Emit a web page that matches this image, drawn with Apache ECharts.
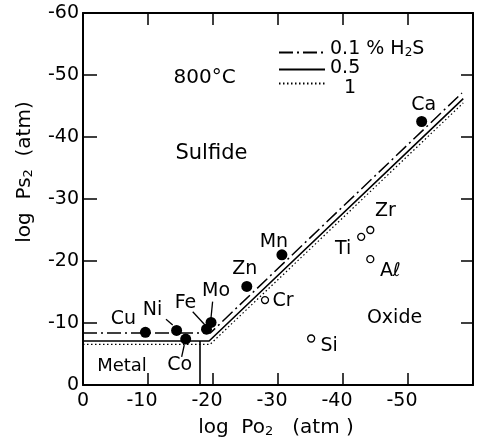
<!DOCTYPE html>
<html>
<head>
<meta charset="utf-8">
<script src="https://cdn.jsdelivr.net/npm/echarts@6/dist/echarts.min.js"></script>
<style>html,body{margin:0;padding:0;background:#fff}#c{width:477px;height:441px}</style>
</head>
<body>
<div id="c"></div>
<script>
// ---- data (log Po2, log Ps2) ----
var line01 = [[0, -8.4], [-19.6, -8.4], [-58.3, -47.1]];   // 0.1 % H2S
var line05 = [[0, -7.1], [-19.4, -7.1], [-58.5, -46.2]];   // 0.5
var line1  = [[0, -6.55], [-19.55, -6.55], [-58.5, -45.5]]; // 1
var metalEdge = [[-18, 0], [-18, -7.1]];

var sulfideNames = ['Cu', 'Ni', 'Co', 'Fe', 'Mo', 'Zn', 'Mn', 'Ca'];
var sulfideX = [-9.6, -14.4, -15.8, -19.0, -19.7, -25.2, -30.6, -52.1];
var sulfideY = [-8.5, -8.8, -7.4, -9.0, -10.1, -15.9, -21.0, -42.5];

var oxideNames = ['Cr', 'Ti', 'Zr', 'A\u2113', 'Si'];
var oxideX = [-28.0, -42.8, -44.2, -44.2, -35.1];
var oxideY = [-13.7, -23.9, -25.0, -20.3, -7.5];

var regionNames = ['800\u00b0C', 'Sulfide', 'Oxide', 'Metal'];
var regionX = [-13.85, -14.15, -43.6, -2.1];
var regionY = [-49.5, -37.4, -10.85, -2.95];

var leaderSegs = [
  [[-12.77, -10.6], [-13.8, -9.68]],   // Ni
  [[-16.88, -11.82], [-18.77, -9.68]], // Fe
  [[-19.94, -13.44], [-19.69, -10.81]],// Mo
  [[-15.18, -4.52], [-15.58, -6.45]]   // Co
];
var seriesNames = ['0.1 % H2S', '0.5', '1'];
var xTicks = [0, -10, -20, -30, -40, -50];
var yTicks = [0, -10, -20, -30, -40, -50, -60];

// ---- styles ----
var FONT = 'DejaVu Sans';
var FS = 19;
var sulfideOffsets = [[-22, -13], [-24, -20], [-6, 26], [-21, -26], [5, -31], [-2, -17], [-8, -13], [2, -16]];
var oxideOffsets = [[18, 1], [-18, 12], [15, -19], [20, 12], [18, 8]];
var regionSizes = [20, 21, 19, 18];
var legendTops = [40, 59, 78];
var legendTextPad = [[0, 0, 6, 0], [0, 0, 2, 0], [8, 0, 0, 14]];

function mk(names, xs, ys, offs) {
  return names.map(function (n, i) {
    return {name: n, value: [xs[i], ys[i]], label: {offset: offs[i]}};
  });
}

var legends = seriesNames.map(function (n, i) {
  return {
    data: [n], orient: 'vertical', left: 278, top: legendTops[i], padding: 0,
    itemWidth: 46, itemHeight: 14, itemStyle: {opacity: 0},
    formatter: function (nm) { return nm === '0.1 % H2S' ? '0.1 % H{sub|2}S' : nm; },
    textStyle: {fontFamily: FONT, fontSize: FS, color: '#000', padding: legendTextPad[i],
      rich: {sub: {fontFamily: FONT, fontSize: 12, verticalAlign: 'bottom', color: '#000', padding: [6, 0, 0, 0]}}}
  };
});

var chart = echarts.init(document.getElementById('c'));
var axisCommon = {
  type: 'value', min: -60, max: 0, interval: 10, inverse: true,
  axisLine: {onZero: false, lineStyle: {color: '#000', width: 2}},
  axisTick: {inside: true, length: 12, lineStyle: {color: '#000', width: 1.5}},
  splitLine: {show: false}
};
chart.setOption({
  animation: false,
  backgroundColor: '#fff',
  grid: {left: 83, right: 4, top: 13, bottom: 56},
  legend: legends,
  xAxis: [
    Object.assign({}, axisCommon, {position: 'bottom',
      axisLabel: {margin: 7, color: '#000', fontFamily: FONT, fontSize: FS,
        formatter: function (v) {
          if (xTicks.indexOf(v) < 0) return '';
          return v === 0 ? '{z|0}' : '{n|' + v + '}';
        },
        rich: {z: {fontFamily: FONT, fontSize: FS, color: '#000'},
               n: {fontFamily: FONT, fontSize: FS, color: '#000', padding: [0, 12, 0, 0]}}}}),
    Object.assign({}, axisCommon, {position: 'top', axisLabel: {show: false}})
  ],
  yAxis: [
    Object.assign({}, axisCommon, {position: 'left',
      axisTick: {inside: true, length: 14, lineStyle: {color: '#000', width: 1.5}},
      axisLabel: {margin: 4, color: '#000', fontFamily: FONT, fontSize: FS,
        formatter: function (v) { return yTicks.indexOf(v) >= 0 ? String(v) : ''; }}}),
    Object.assign({}, axisCommon, {position: 'right', axisLabel: {show: false}})
  ],
  graphic: [
    {type: 'text', x: 25, y: 172, rotation: Math.PI / 2,
     style: {text: 'log  Ps{sub|2}  (atm)', fontFamily: FONT, fontSize: 20, fill: '#000',
       align: 'center', verticalAlign: 'middle',
       rich: {sub: {fontFamily: FONT, fontSize: 13, fill: '#000', verticalAlign: 'bottom', padding: [8, 0, 0, 0]}}}},
    {type: 'text', x: 276, y: 428,
     style: {text: 'log  Po{sub|2}   (atm )', fontFamily: FONT, fontSize: 20, fill: '#000',
       align: 'center', verticalAlign: 'middle',
       rich: {sub: {fontFamily: FONT, fontSize: 13, fill: '#000', verticalAlign: 'bottom', padding: [8, 0, 0, 0]}}}}
  ],
  series: [
    {name: seriesNames[0], type: 'line', data: line01, symbol: 'none',
     lineStyle: {color: '#000', width: 1.5, type: [14, 4, 2, 4]}, itemStyle: {color: '#000'}},
    {name: seriesNames[1], type: 'line', data: line05, symbol: 'none',
     lineStyle: {color: '#000', width: 1.6, type: 'solid'}, itemStyle: {color: '#000'}},
    {name: seriesNames[2], type: 'line', data: line1, symbol: 'none',
     lineStyle: {color: '#000', width: 1.2, type: [1.5, 2.5]}, itemStyle: {color: '#000'}},
    {name: 'metal', type: 'line', data: metalEdge, symbol: 'none',
     lineStyle: {color: '#000', width: 1.6}},
    {name: 'sulfides', type: 'scatter', symbol: 'circle', symbolSize: 11,
     itemStyle: {color: '#000', opacity: 1},
     label: {show: true, position: 'inside', formatter: '{b}', color: '#000', fontFamily: FONT, fontSize: FS},
     data: mk(sulfideNames, sulfideX, sulfideY, sulfideOffsets)},
    {name: 'oxides', type: 'scatter', symbol: 'circle', symbolSize: 7,
     itemStyle: {color: '#fff', borderColor: '#000', borderWidth: 1.3, opacity: 1},
     label: {show: true, position: 'inside', formatter: '{b}', color: '#000', fontFamily: FONT, fontSize: FS},
     data: mk(oxideNames, oxideX, oxideY, oxideOffsets)},
    {name: 'regions', type: 'scatter', symbolSize: 1, itemStyle: {color: 'rgba(255,255,255,0)', opacity: 1},
     label: {show: true, position: 'right', distance: 0, formatter: '{b}', color: '#000', fontFamily: FONT, fontSize: 19},
     data: regionNames.map(function (n, i) { return {name: n, value: [regionX[i], regionY[i]], label: {fontSize: regionSizes[i]}}; })},
    {name: 'leaders', type: 'lines', coordinateSystem: 'cartesian2d', polyline: false,
     lineStyle: {color: '#000', width: 1.3, opacity: 1},
     data: leaderSegs.map(function (s) { return {coords: s}; })}
  ]
});
</script>
</body>
</html>
